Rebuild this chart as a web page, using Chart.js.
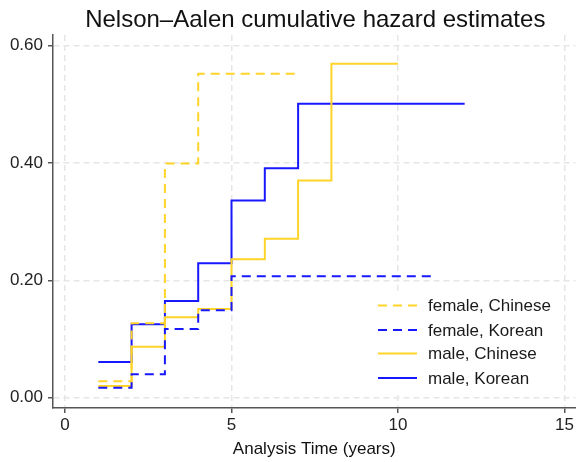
<!DOCTYPE html>
<html>
<head>
<meta charset="utf-8">
<script src="https://cdn.jsdelivr.net/npm/chart.js@4/dist/chart.umd.min.js"></script>
<style>
html,body{margin:0;padding:0;background:#fff;}
#wrap{width:576px;height:462px;}
</style>
</head>
<body>
<div id="wrap"><canvas id="c" width="576" height="462"></canvas></div>
<script>
const chartTitle = "Nelson\u2013Aalen cumulative hazard estimates";
const seriesNames = ["female, Chinese", "female, Korean", "male, Chinese", "male, Korean"];
const femaleChineseTime = [1, 2, 3, 4, 7];
const femaleChineseHaz  = [0.028, 0.127, 0.399, 0.552, 0.552];
const femaleKoreanTime  = [1, 2, 3, 4, 5, 11];
const femaleKoreanHaz   = [0.017, 0.040, 0.117, 0.149, 0.207, 0.207];
const maleChineseTime   = [1, 2, 3, 4, 5, 6, 7, 8, 10];
const maleChineseHaz    = [0.020, 0.087, 0.137, 0.151, 0.236, 0.271, 0.370, 0.569, 0.569];
const maleKoreanTime    = [1, 2, 3, 4, 5, 6, 7, 12];
const maleKoreanHaz     = [0.061, 0.125, 0.165, 0.229, 0.336, 0.391, 0.501, 0.501];
const xTicks = [0, 5, 10, 15];
const yTicks = [0, 0.2, 0.4, 0.6];

const YELLOW = "#FFD428";
const BLUE = "#1818FF";
const DASH = [9, 6];
const FONT = '"Liberation Sans", Arial, sans-serif';

function pts(t, v){ return t.map((x,i)=>({x:x, y:v[i]})); }

const specs = [
  {t:femaleChineseTime, v:femaleChineseHaz, color:YELLOW, dash:DASH},
  {t:femaleKoreanTime,  v:femaleKoreanHaz,  color:BLUE,   dash:DASH},
  {t:maleChineseTime,   v:maleChineseHaz,   color:YELLOW, dash:[]},
  {t:maleKoreanTime,    v:maleKoreanHaz,    color:BLUE,   dash:[]}
];

const datasets = specs.map((s,i)=>({
  label: seriesNames[i],
  data: pts(s.t, s.v),
  borderColor: s.color,
  backgroundColor: s.color,
  borderWidth: 2,
  borderDash: s.dash,
  showLine: true,
  stepped: 'before',
  pointRadius: 0,
  fill: false
}));

const extrasPlugin = {
  id: 'extras',
  afterDatasetsDraw(chart){
    const ctx = chart.ctx;
    const ca = chart.chartArea;
    ctx.save();
    // title centred over plot region
    ctx.font = '24px ' + FONT;
    ctx.fillStyle = '#111';
    ctx.textAlign = 'center';
    ctx.textBaseline = 'middle';
    ctx.fillText(chartTitle, (ca.left + ca.right) / 2 + 1, 20);
    // legend inside plot
    ctx.fillStyle = '#ffffff';
    ctx.fillRect(366, 291, 192, 102);
    const ys = [305.5, 330, 353.5, 378];
    ctx.font = '17px ' + FONT;
    ctx.textAlign = 'left';
    chart.data.datasets.forEach((ds,i)=>{
      ctx.strokeStyle = ds.borderColor;
      ctx.lineWidth = 2;
      ctx.setLineDash(ds.borderDash || []);
      ctx.beginPath();
      ctx.moveTo(378, ys[i]);
      ctx.lineTo(417, ys[i]);
      ctx.stroke();
      ctx.setLineDash([]);
      ctx.fillStyle = '#1a1a1a';
      ctx.fillText(ds.label, 428, ys[i] + 1);
    });
    ctx.restore();
  }
};

new Chart(document.getElementById('c'), {
  type: 'scatter',
  data: { datasets },
  plugins: [extrasPlugin],
  options: {
    responsive: false,
    animation: false,
    layout: { padding: { top: 35, left: 0, right: 0, bottom: 0 } },
    plugins: {
      legend: { display: false },
      tooltip: { enabled: false },
      title: { display: false }
    },
    scales: {
      x: {
        type: 'linear',
        min: -0.36,
        max: 15.33,
        afterBuildTicks(s){ s.ticks = xTicks.map(v=>({value:v})); },
        afterFit(s){ s.height = 54; },
        ticks: {
          color: '#222',
          font: { family: FONT, size: 17 },
          padding: 2,
          maxRotation: 0,
          callback: v => String(v)
        },
        grid: {
          color: '#e6e6e6',
          lineWidth: 1.5,
          tickColor: '#555',
          tickLength: 5,
          tickBorderDash: [],
          tickWidth: 1.5
        },
        border: { display: true, color: '#555', width: 1.5, dash: [6,4] },
        title: {
          display: true,
          text: 'Analysis Time (years)',
          color: '#111',
          font: { family: FONT, size: 17 },
          padding: { top: 0, bottom: 2 }
        }
      },
      y: {
        type: 'linear',
        min: -0.0175,
        max: 0.618,
        afterBuildTicks(s){ s.ticks = yTicks.map(v=>({value:v})); },
        afterFit(s){ s.width = 53; },
        ticks: {
          color: '#222',
          font: { family: FONT, size: 17 },
          padding: 5,
          callback: v => Number(v).toFixed(2)
        },
        grid: {
          color: '#e6e6e6',
          lineWidth: 1.5,
          tickColor: '#555',
          tickLength: 5,
          tickBorderDash: [],
          tickWidth: 1.5
        },
        border: { display: true, color: '#555', width: 1.5, dash: [6,4] }
      }
    }
  }
});
</script>
</body>
</html>
